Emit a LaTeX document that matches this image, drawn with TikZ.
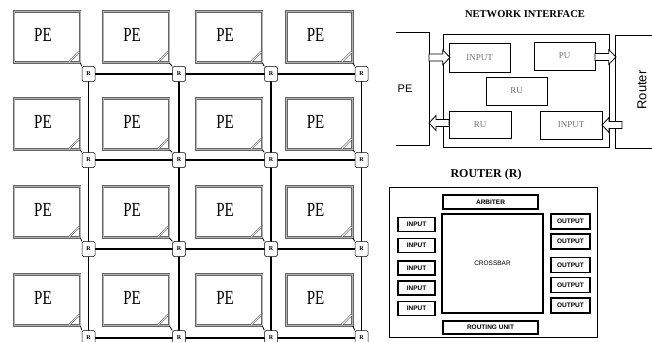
\documentclass[tikz,border=0pt]{standalone}
\usepackage{fontspec}
\setmainfont{Liberation Serif}
\setsansfont{Liberation Sans}
\begin{document}
\begin{tikzpicture}[x=1pt,y=-1pt,
  pebox/.style={draw=black!60,line width=0.75pt,double=black!30,double distance=1pt,
    minimum width=66pt,minimum height=51pt,inner sep=0pt},
  petext/.style={font=\fontsize{20}{20}\selectfont,inner sep=0pt},
  rnode/.style={draw,line width=0.5pt,rounded corners=1.5pt,fill=white,
    minimum width=13pt,minimum height=15pt,inner sep=0pt,font=\fontsize{6}{6}\selectfont\bfseries},
  link/.style={line width=1.1pt},
  plink/.style={line width=0.8pt},
  grip/.style={draw=black!65,line width=0.55pt,double=white,double distance=0.8pt},
  nibox/.style={draw,line width=0.7pt,inner sep=0pt,font=\fontsize{9}{9}\selectfont\color{black!55}},
  rbox/.style={draw,line width=1.2pt,inner sep=0pt,font=\sffamily\fontsize{6.5}{6.5}\selectfont\bfseries},
  barrowst/.style={draw,line width=0.8pt,fill=white},
  title/.style={font=\bfseries,inner sep=0pt}]
\useasboundingbox (0,0) rectangle (652,342);
\fill[white] (0,0) rectangle (652,342);

% ---------- mesh ----------
\foreach \i/\cy/\ry in {1/37/74,2/124/160,3/212/249,4/300/338}{
  \foreach \j/\cx/\rx in {1/47/88.5,2/136/179,3/229/271,4/319.5/361.5}{
    \node[pebox] (pe\i\j) at (\cx,\cy) {};
    \node[petext] (pet\i\j) at (\cx-4,\cy-2) {\scalebox{0.75}[1]{PE}};
    \draw[grip] ([xshift=-11pt,yshift=1.3pt]pe\i\j.south east) -- ([xshift=-1.3pt,yshift=11pt]pe\i\j.south east);
    \coordinate (r\i\j) at (\rx,\ry);
  }
}
\foreach \i in {1,2,3,4}{
  \draw[link] (r\i1) -- (r\i2) -- (r\i3) -- (r\i4);
}
\foreach \j in {1,2,3,4}{
  \draw[link] (r1\j) -- (r2\j) -- (r3\j) -- (r4\j) -- ++(0,12);
}
\foreach \i in {1,2,3,4}{
  \foreach \j in {1,2,3,4}{
    \node[rnode] (rr\i\j) at (r\i\j) {R};
    \draw[plink] (pe\i\j.south east) -- (rr\i\j.north west);
  }
}

% ---------- network interface ----------
\node[title,font=\bfseries\fontsize{10.5}{10.5}\selectfont] (nititle) at (525,14) {NETWORK INTERFACE};
\draw[line width=0.7pt] (396,32) -- (429,32) -- (429,145) -- (396,145);
\draw[line width=0.7pt] (652,35) -- (615,35) -- (615,148) -- (652,148);
\node[font=\sffamily\fontsize{11}{11}\selectfont,inner sep=0pt] (nipe) at (405,89) {PE};
\node[font=\sffamily\fontsize{13}{13}\selectfont,inner sep=0pt,rotate=90] (nirouter) at (642,90) {Router};
\node[draw,line width=1pt,minimum width=166pt,minimum height=112pt,inner sep=0pt] (ni) at (526,91) {};
\node[nibox,minimum width=61pt,minimum height=29pt] (niin1) at (479.5,57.5) {INPUT};
\node[nibox,minimum width=61pt,minimum height=28pt] (nipu) at (564.5,56) {PU};
\node[nibox,minimum width=61pt,minimum height=28pt] (niru1) at (516.5,91) {RU};
\node[nibox,minimum width=62pt,minimum height=27pt] (niru2) at (480,124.5) {RU};
\node[nibox,minimum width=62pt,minimum height=28pt] (niin2) at (571,125) {INPUT};
\newcommand\barrow[3]{%
  \draw[barrowst] (#1,#3-3.5) -- ({#1+(#2-#1)*0.65},#3-3.5) -- ({#1+(#2-#1)*0.65},#3-7.5)
    -- (#2,#3) -- ({#1+(#2-#1)*0.65},#3+7.5) -- ({#1+(#2-#1)*0.65},#3+3.5) -- (#1,#3+3.5) -- cycle;}
\barrow{429}{450}{57.5}
\barrow{595}{616}{57}
\barrow{449}{429}{123}
\barrow{622}{602}{125}

% ---------- router ----------
\node[title,font=\bfseries\fontsize{12}{12}\selectfont] (rtitle) at (486,175) {ROUTER (R)};
\node[draw,line width=1pt,minimum width=208pt,minimum height=150pt,inner sep=0pt] (router) at (493,262) {};
\node[rbox,minimum width=95pt,minimum height=14pt] (arb) at (490.5,202) {ARBITER};
\node[rbox,minimum width=101pt,minimum height=99pt,font=\sffamily\fontsize{6.5}{6.5}\selectfont] (xbar) at (492.5,263.5) {CROSSBAR};
\node[rbox,minimum width=95pt,minimum height=13pt] (ru) at (490.5,327.5) {ROUTING UNIT};
\foreach \k/\y in {1/224.5,2/245.5,3/268,4/288,5/308.5}{
  \node[rbox,minimum width=37pt,minimum height=14pt] (in\k) at (416.5,\y) {INPUT};
}
\foreach \k/\y in {1/221.5,2/241.5,3/265,4/285,5/305.5}{
  \node[rbox,minimum width=39pt,minimum height=15pt] (out\k) at (570.5,\y) {OUTPUT};
}
\end{tikzpicture}
\end{document}
